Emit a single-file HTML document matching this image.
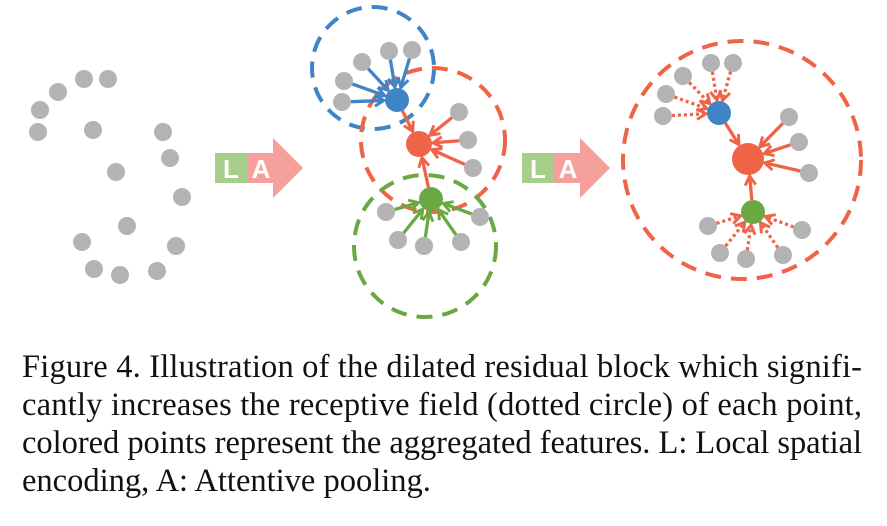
<!DOCTYPE html>
<html><head><meta charset="utf-8"><style>
html,body{margin:0;padding:0;background:#fff;width:887px;height:526px;overflow:hidden}
svg{display:block}
</style></head><body>
<svg id="s" width="887" height="526" viewBox="0 0 887 526" xmlns="http://www.w3.org/2000/svg">
<defs>
<marker id="mb" viewBox="0 0 10 10" refX="8" refY="5" markerWidth="4" markerHeight="4" orient="auto" markerUnits="strokeWidth"><polyline points="1,1 8,5 1,9" fill="none" stroke="#3f85c6" stroke-width="2.2"/></marker>
<marker id="mr" viewBox="0 0 10 10" refX="8" refY="5" markerWidth="4" markerHeight="4" orient="auto" markerUnits="strokeWidth"><polyline points="1,1 8,5 1,9" fill="none" stroke="#ef6347" stroke-width="2.2"/></marker>
<marker id="mg" viewBox="0 0 10 10" refX="8" refY="5" markerWidth="4" markerHeight="4" orient="auto" markerUnits="strokeWidth"><polyline points="1,1 8,5 1,9" fill="none" stroke="#6aa843" stroke-width="2.2"/></marker>
</defs>
<g id="g"></g>
<g>
<rect x="215" y="153" width="32" height="30" fill="#a5cf8a"/>
<polygon points="247,153 273,153 273,138 303,168 273,198 273,183 247,183" fill="#f5a09a"/>
<text x="231" y="178" font-family="Liberation Sans, sans-serif" font-weight="bold" font-size="26" fill="#fff" text-anchor="middle">L</text>
<text x="261" y="178" font-family="Liberation Sans, sans-serif" font-weight="bold" font-size="26" fill="#fff" text-anchor="middle">A</text>
<rect x="522" y="153" width="32" height="30" fill="#a5cf8a"/>
<polygon points="554,153 580,153 580,138 610,168 580,198 580,183 554,183" fill="#f5a09a"/>
<text x="538" y="178" font-family="Liberation Sans, sans-serif" font-weight="bold" font-size="26" fill="#fff" text-anchor="middle">L</text>
<text x="568" y="178" font-family="Liberation Sans, sans-serif" font-weight="bold" font-size="26" fill="#fff" text-anchor="middle">A</text>
</g>
<g font-family="Liberation Serif, serif" font-size="32.5" fill="#111">
<text x="22" y="377" textLength="840" lengthAdjust="spacing">Figure 4. Illustration of the dilated residual block which signifi-</text>
<text x="22" y="415" textLength="840" lengthAdjust="spacing">cantly increases the receptive field (dotted circle) of each point,</text>
<text x="22" y="453" textLength="840" lengthAdjust="spacing">colored points represent the aggregated features. L: Local spatial</text>
<text x="22" y="491">encoding, A: Attentive pooling.</text>
</g>
</svg>
<script>
var NS="http://www.w3.org/2000/svg",g=document.getElementById("g");
var B="#3f85c6",R="#ef6347",G="#6aa843",Y="#b3b3b6";
function el(t,a){var e=document.createElementNS(NS,t);for(var k in a)e.setAttribute(k,a[k]);g.appendChild(e);return e;}
function dot(x,y,r,c){el("circle",{cx:x,cy:y,r:r,fill:c});}
function ring(x,y,r,c){el("circle",{cx:x,cy:y,r:r,fill:"none",stroke:c,"stroke-width":4,"stroke-dasharray":"16 10"});}
function arr(x1,y1,x2,y2,r1,r2,c,m,dash){var dx=x2-x1,dy=y2-y1,d=Math.hypot(dx,dy),ux=dx/d,uy=dy/d;
var a={x1:x1+ux*r1,y1:y1+uy*r1,x2:x2-ux*(r2+1),y2:y2-uy*(r2+1),stroke:c,"stroke-width":3.3,"marker-end":"url(#"+m+")"};
if(dash)a["stroke-dasharray"]="3 3";el("line",a);}
[[84,79],[108,79],[58,92],[40,110],[38,132],[93,130],[163,132],[170,158],[116,172],[182,197],[127,226],[82,242],[176,246],[94,269],[120,275],[157,271]].forEach(function(p){dot(p[0],p[1],9,Y)});
ring(373,68,61,B);ring(433,140,72,R);ring(425,246,71,G);
var bn=[397,100],rn=[419,144],gn=[431,199];
[[362,62],[389,51],[412,50],[344,81],[342,102]].forEach(function(p){dot(p[0],p[1],9,Y);arr(p[0],p[1],bn[0],bn[1],9,12,B,"mb")});
[[459,112],[468,140],[473,168]].forEach(function(p){dot(p[0],p[1],9,Y);arr(p[0],p[1],rn[0],rn[1],9,13,R,"mr")});
[[386,212],[480,217],[398,240],[424,246],[461,242]].forEach(function(p){dot(p[0],p[1],9,Y);arr(p[0],p[1],gn[0],gn[1],9,12,G,"mg")});
arr(bn[0],bn[1],rn[0],rn[1],12,13,R,"mr");arr(gn[0],gn[1],rn[0],rn[1],12,13,R,"mr");
dot(bn[0],bn[1],12,B);dot(rn[0],rn[1],13,R);dot(gn[0],gn[1],12,G);
ring(742,160,119,R);
var b2=[719,113],r2=[748,159],g2=[753,212];
[[711,63],[733,63],[683,76],[666,94],[663,116]].forEach(function(p){dot(p[0],p[1],9,Y);arr(p[0],p[1],b2[0],b2[1],9,12,R,"mr",1)});
[[789,117],[799,142],[809,173]].forEach(function(p){dot(p[0],p[1],9,Y);arr(p[0],p[1],r2[0],r2[1],9,16,R,"mr")});
[[708,226],[802,230],[720,253],[746,259],[783,255]].forEach(function(p){dot(p[0],p[1],9,Y);arr(p[0],p[1],g2[0],g2[1],9,12,R,"mr",1)});
arr(b2[0],b2[1],r2[0],r2[1],12,16,R,"mr");arr(g2[0],g2[1],r2[0],r2[1],12,16,R,"mr");
dot(b2[0],b2[1],12,B);dot(r2[0],r2[1],16,R);dot(g2[0],g2[1],12,G);
</script>
</body></html>
